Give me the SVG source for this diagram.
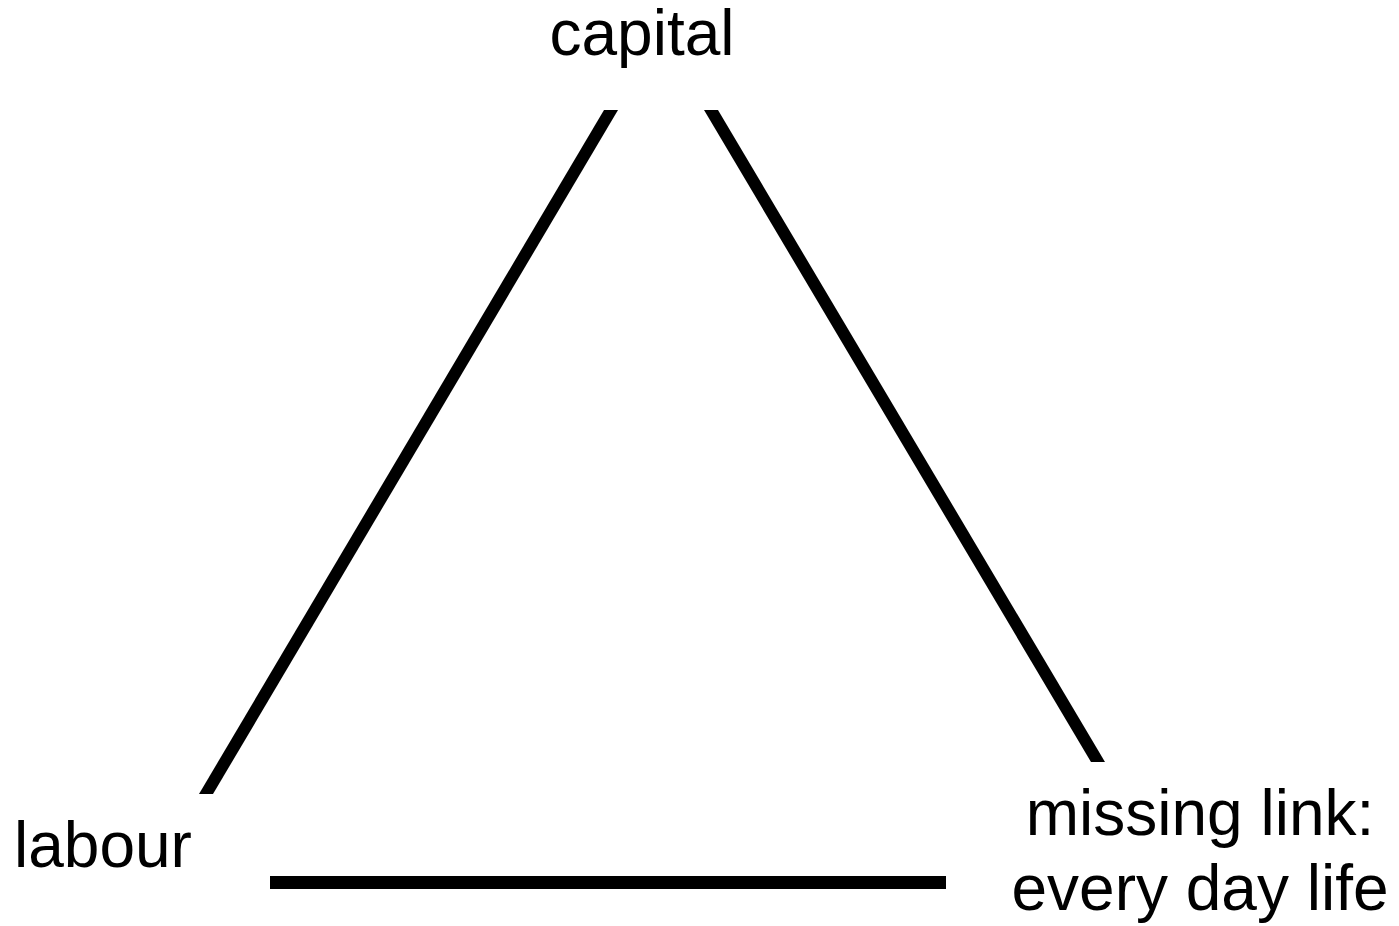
<svg xmlns="http://www.w3.org/2000/svg" width="1399" height="926" viewBox="0 0 1399 926">
<style>
.lbl{font-family:"Liberation Sans",Arial,sans-serif;font-size:64px;fill:#000}
.edge{fill:#000;stroke:none}
</style>
<rect width="1399" height="926" fill="#fff"/>
<g id="connectors">
<polygon class="edge" points="604,110 618,110 213,794 199,794"/>
<polygon class="edge" points="704,110 718,110 1105,762 1091,762"/>
<rect class="edge" x="270" y="876" width="676" height="13"/>
</g>
<g id="capital"><text class="lbl" x="642" y="55" text-anchor="middle">capital</text></g>
<g id="labour"><text class="lbl" x="14" y="867">labour</text></g>
<g id="everyday"><text class="lbl" x="1200" y="835" text-anchor="middle">missing link:</text><text class="lbl" x="1200" y="910" text-anchor="middle">every day life</text></g>
</svg>
